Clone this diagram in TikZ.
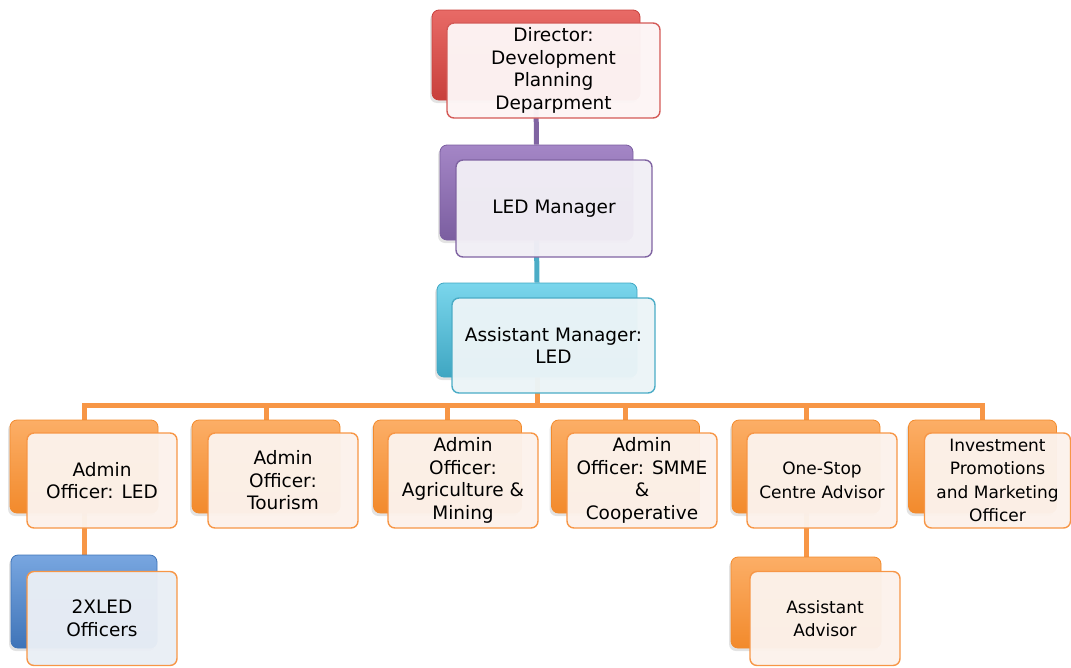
\documentclass[tikz,border=0pt]{standalone}
\usepackage{fontspec}
\setmainfont{DejaVu Sans}
\usetikzlibrary{shadows}
\pgfdeclarelayer{bg}
\pgfsetlayers{bg,main}
\definecolor{redM}{HTML}{C8403C}\definecolor{redL}{HTML}{E86A66}\definecolor{redF}{HTML}{FDF5F5}\definecolor{redE}{HTML}{D45A57}
\definecolor{purM}{HTML}{7B5EA0}\definecolor{purL}{HTML}{A486C6}\definecolor{purF}{HTML}{F1EEF5}\definecolor{purE}{HTML}{8064A2}
\definecolor{cyaM}{HTML}{3FA6C2}\definecolor{cyaL}{HTML}{7AD6EC}\definecolor{cyaF}{HTML}{EBF4F7}\definecolor{cyaE}{HTML}{4BACC6}
\definecolor{oraM}{HTML}{F28A2C}\definecolor{oraL}{HTML}{FCAE66}\definecolor{oraF}{HTML}{FCF2EB}\definecolor{oraE}{HTML}{F79646}
\definecolor{bluM}{HTML}{3F74B8}\definecolor{bluL}{HTML}{78A6E0}\definecolor{bluF}{HTML}{E9EEF5}
\tikzset{
  backbox/.style n args={3}{rounded corners=7pt, top color=#1, bottom color=#2, draw=#3, line width=0.8pt, inner sep=0pt,
    drop shadow={opacity=0.22, shadow xshift=-2pt, shadow yshift=-3pt}},
  frontbox/.style n args={2}{rounded corners=7pt, fill=#1, fill opacity=0.97, text opacity=1, draw=#2, line width=1.4pt, align=center, inner sep=0pt, font=\fontsize{18.5}{22.5}\selectfont},
  smalltext/.style={font=\fontsize{17}{23.5}\selectfont},
  conn/.style={line width=5pt, draw=#1},
}
\begin{document}
\begin{tikzpicture}[x=1pt,y=-1pt]
\useasboundingbox (0,0) rectangle (1071,667);
% Director
\node[backbox={redL}{redM}{redM}, minimum width=208pt, minimum height=90pt] (dirB) at (536,55) {};
\node[frontbox={redF}{redE}, minimum width=213pt, minimum height=95pt] (dir) at (553.5,70.5) {Director:\\Development\\Planning\\Deparpment};
% LED Manager
\node[backbox={purL}{purM}{purM}, minimum width=193pt, minimum height=95pt] (mgrB) at (536.5,192.5) {};
\node[frontbox={purF}{purE}, minimum width=196pt, minimum height=97pt] (mgr) at (554,208.5) {LED Manager};
% Assistant Manager
\node[backbox={cyaL}{cyaM}{cyaM}, minimum width=200pt, minimum height=94pt] (amB) at (537,330) {};
\node[frontbox={cyaF}{cyaE}, minimum width=203pt, minimum height=95pt] (am) at (553.5,345.5) {Assistant Manager:\\LED};
% Row
\node[backbox={oraL}{oraM}{oraM}, minimum width=148pt, minimum height=93pt] (a1B) at (84,466.5) {};
\node[frontbox={oraF}{oraE}, minimum width=150pt, minimum height=95pt] (a1) at (102,480.5) {Admin\\Officer: LED};
\node[backbox={oraL}{oraM}{oraM}, minimum width=148pt, minimum height=93pt] (a2B) at (266,466.5) {};
\node[frontbox={oraF}{oraE}, minimum width=150pt, minimum height=95pt] (a2) at (283,480.5) {Admin\\Officer:\\Tourism};
\node[backbox={oraL}{oraM}{oraM}, minimum width=148pt, minimum height=93pt] (a3B) at (447.5,466.5) {};
\node[frontbox={oraF}{oraE}, minimum width=150pt, minimum height=95pt] (a3) at (463,480.5) {Admin\\Officer:\\Agriculture \&\\Mining};
\node[backbox={oraL}{oraM}{oraM}, minimum width=148pt, minimum height=93pt] (a4B) at (625.5,466.5) {};
\node[frontbox={oraF}{oraE}, minimum width=150pt, minimum height=95pt] (a4) at (642,480.5) {Admin\\Officer: SMME\\\&\\Cooperative};
\node[backbox={oraL}{oraM}{oraM}, minimum width=148pt, minimum height=93pt] (a5B) at (806,466.5) {};
\node[frontbox={oraF}{oraE}, minimum width=150pt, minimum height=95pt, smalltext] (a5) at (822,480.5) {One-Stop\\Centre Advisor};
\node[backbox={oraL}{oraM}{oraM}, minimum width=148pt, minimum height=93pt] (a6B) at (982.5,466.5) {};
\node[frontbox={oraF}{oraE}, minimum width=146pt, minimum height=95pt, smalltext] (a6) at (997.5,480.5) {Investment\\Promotions\\and Marketing\\Officer};
% Bottom
\node[backbox={bluL}{bluM}{bluM}, minimum width=146pt, minimum height=93pt] (l1B) at (84,601.5) {};
\node[frontbox={bluF}{oraE}, minimum width=150pt, minimum height=94pt] (l1) at (102,618.5) {2XLED\\Officers};
\node[backbox={oraL}{oraM}{oraM}, minimum width=150pt, minimum height=91pt] (adB) at (806,602.5) {};
\node[frontbox={oraF}{oraE}, minimum width=150pt, minimum height=94pt, smalltext] (ad) at (825,618.5) {Assistant\\Advisor};
% Connectors
\coordinate (bus) at (537,405);
\begin{pgfonlayer}{bg}
\draw[conn=purE] (dirB.south) -- (mgrB.north);
\draw[conn=cyaE] (mgrB.south) -- (amB.north);
\foreach \c in {a1B,a2B,a3B,a4B,a5B,a6B}{
  \draw[conn=oraE, line join=miter] (amB.south) -- (bus) -| (\c.north);
}
\draw[conn=oraE] (a1B.south) -- (l1B.north);
\draw[conn=oraE] (a5B.south) -- (adB.north);
\end{pgfonlayer}
\end{tikzpicture}
\end{document}
